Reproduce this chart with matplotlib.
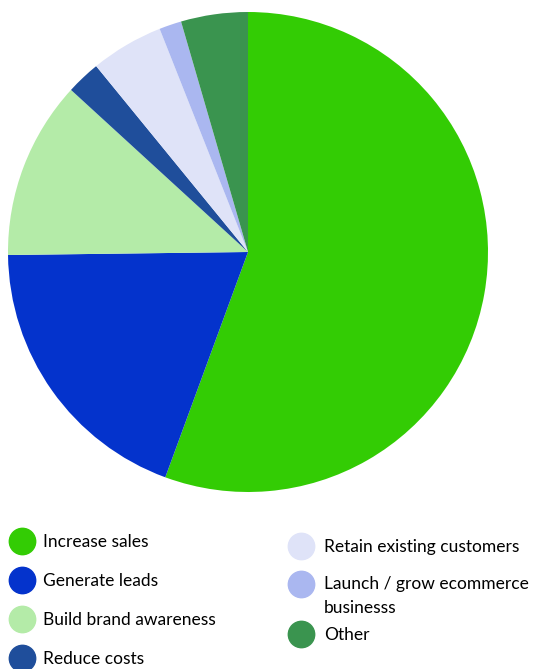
import matplotlib
matplotlib.use("Agg")
import matplotlib.pyplot as plt
from matplotlib.lines import Line2D
from matplotlib.legend_handler import HandlerLine2D

plt.rcParams["font.family"] = ["Lato", "DejaVu Sans"]

# Anteile (%)
labels = ["Increase sales", "Generate leads", "Build brand awareness", "Reduce costs",
          "Retain existing customers", "Launch / grow ecommerce\nbusinesss", "Other"]
values = [55.6, 19.2, 12.0, 2.3, 4.9, 1.5, 4.5]
colors = ["#33cc04", "#0433cc", "#b4eba8", "#1f4e9b", "#dfe3f8", "#aab7f0", "#3a944f"]

W, H = 550, 669
fig = plt.figure(figsize=(W / 100, H / 100), dpi=100)

# Kreis: Mittelpunkt (248, 252), Radius 240 px
ax = fig.add_axes([8 / W, (H - 492) / H, 480 / W, 480 / H])
ax.pie(values, colors=colors, startangle=90, counterclock=False,
       radius=1.0, wedgeprops={"linewidth": 0})
ax.set_xlim(-1, 1)
ax.set_ylim(-1, 1)
ax.set_aspect("equal")
ax.axis("off")


class FirstLineHandler(HandlerLine2D):
    # Punkt auf Höhe der ersten Textzeile statt mittig
    def create_artists(self, *args, **kwargs):
        arts = super().create_artists(*args, **kwargs)
        for a in arts:
            a.set_ydata([y + 9.0 for y in a.get_ydata()])
        return arts


handles = [Line2D([], [], linestyle="none", marker="o", markersize=19,
                  markerfacecolor=c, markeredgecolor=c) for c in colors]

common = dict(frameon=False, fontsize=12.5, borderpad=0, borderaxespad=0,
              handlelength=1.0)
leg1 = fig.legend(handles[:4], labels[:4], loc="upper left", labelspacing=1.32,
                  handletextpad=0.7, bbox_to_anchor=(13 / W, 1 - 534 / H), **common)
leg2 = fig.legend(handles[4:6], labels[4:6], loc="upper left", labelspacing=1.22,
                  handletextpad=0.85, bbox_to_anchor=(292 / W, 1 - 539 / H),
                  handler_map={handles[5]: FirstLineHandler()}, **common)
for t in leg2.get_texts():
    t.set_linespacing(1.6)
leg3 = fig.legend(handles[6:], labels[6:], loc="upper left",
                  handletextpad=0.85, bbox_to_anchor=(292 / W, 1 - 627 / H), **common)

fig.savefig("out.png", dpi=100, facecolor="white")
